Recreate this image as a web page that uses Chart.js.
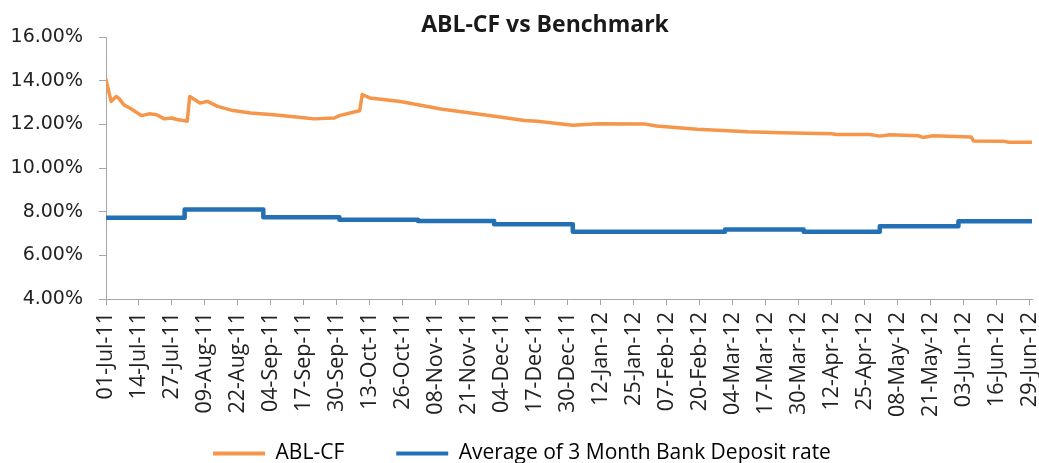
<!DOCTYPE html>
<html>
<head>
<meta charset="utf-8">
<script src="https://cdn.jsdelivr.net/npm/chart.js@4.4.1/dist/chart.umd.min.js"></script>
<style>
  html, body { margin: 0; padding: 0; background: #fff; overflow: hidden; }
  #wrap { width: 1039px; height: 474px; position: relative; }
</style>
</head>
<body>
<div id="wrap"><canvas id="c"></canvas></div>
<script>
// ---- Data ----
const chartTitle = 'ABL-CF vs Benchmark';
const seriesNames = ['ABL-CF', 'Average of 3 Month Bank Deposit rate'];

// x-axis tick labels (every 13 days)
const tickLabels = ['01-Jul-11','14-Jul-11','27-Jul-11','09-Aug-11','22-Aug-11','04-Sep-11','17-Sep-11',
  '30-Sep-11','13-Oct-11','26-Oct-11','08-Nov-11','21-Nov-11','04-Dec-11','17-Dec-11','30-Dec-11',
  '12-Jan-12','25-Jan-12','07-Feb-12','20-Feb-12','04-Mar-12','17-Mar-12','30-Mar-12','12-Apr-12',
  '25-Apr-12','08-May-12','21-May-12','03-Jun-12','16-Jun-12','29-Jun-12'];

// ABL-CF yield (%), dates and values
const ablDates = ['2011-07-01','2011-07-03','2011-07-05','2011-07-06','2011-07-08','2011-07-11','2011-07-15',
  '2011-07-18','2011-07-21','2011-07-24','2011-07-27','2011-07-29','2011-08-01','2011-08-02','2011-08-03',
  '2011-08-04','2011-08-07','2011-08-10','2011-08-14','2011-08-20','2011-08-27','2011-09-05','2011-09-12',
  '2011-09-17','2011-09-21','2011-09-29','2011-10-01','2011-10-08','2011-10-09','2011-10-10','2011-10-13',
  '2011-10-25','2011-11-10','2011-11-29','2011-12-13','2011-12-18','2012-01-01','2012-01-11','2012-01-29',
  '2012-02-03','2012-02-19','2012-03-10','2012-03-23','2012-04-12','2012-04-14','2012-04-27','2012-05-01',
  '2012-05-05','2012-05-16','2012-05-18','2012-05-22','2012-06-06','2012-06-07','2012-06-19','2012-06-21',
  '2012-06-30'];
const ablValues = [14.05,13.05,13.28,13.20,12.90,12.70,12.40,
  12.48,12.44,12.25,12.29,12.22,12.16,12.14,13.28,
  13.21,12.98,13.05,12.82,12.63,12.52,12.44,12.36,
  12.30,12.25,12.29,12.40,12.60,12.62,13.36,13.21,
  13.05,12.70,12.40,12.18,12.14,11.96,12.03,12.02,
  11.92,11.78,11.66,11.62,11.57,11.53,11.53,11.46,
  11.52,11.48,11.40,11.48,11.42,11.24,11.22,11.18,
  11.18];

// Benchmark (%), level starting at each date
const benchDates = ['2011-07-01','2011-08-01','2011-09-01','2011-10-01','2011-11-01','2011-12-01',
  '2012-01-01','2012-03-01','2012-04-01','2012-05-01','2012-06-01','2012-06-30'];
const benchValues = [7.72,8.10,7.75,7.63,7.57,7.42,7.08,7.18,7.08,7.33,7.56,7.56];

const yTicks = [4, 6, 8, 10, 12, 14, 16];

// ---- helpers ----
const MON = {Jan:0,Feb:1,Mar:2,Apr:3,May:4,Jun:5,Jul:6,Aug:7,Sep:8,Oct:9,Nov:10,Dec:11};
const origin = Date.UTC(2011, 6, 1);
const dayIso = s => { const [y,m,d] = s.split('-').map(Number); return (Date.UTC(y, m-1, d) - origin) / 86400000; };
const dayLbl = s => { const [d,m,y] = s.split('-'); return (Date.UTC(2000 + Number(y), MON[m], Number(d)) - origin) / 86400000; };
const tickDays = tickLabels.map(dayLbl);
const labelByDay = {}; tickLabels.forEach((l, i) => labelByDay[tickDays[i]] = l);

const ORANGE = '#F5964A';
const BLUE = '#2470B5';
const AXIS = '#A6A6A6';

// shift the title a little to the right, as in the reference
const titleShift = {
  id: 'titleShift',
  afterLayout(chart) { const t = chart.titleBlock; if (t) { t.left += 23; t.right += 23; } }
};

new Chart(document.getElementById('c'), {
  type: 'line',
  plugins: [titleShift],
  data: {
    datasets: [
      { label: seriesNames[0], data: ablDates.map((d, i) => ({x: dayIso(d), y: ablValues[i]})),
        borderColor: ORANGE, backgroundColor: ORANGE, borderWidth: 3.5, pointRadius: 0, tension: 0,
        borderJoinStyle: 'round', borderCapStyle: 'round' },
      { label: seriesNames[1], data: benchDates.map((d, i) => ({x: dayIso(d), y: benchValues[i]})),
        borderColor: BLUE, backgroundColor: BLUE, borderWidth: 4.5, pointRadius: 0, stepped: true,
        borderJoinStyle: 'round', borderCapStyle: 'round' }
    ]
  },
  options: {
    responsive: true,
    maintainAspectRatio: false,
    animation: false,
    layout: { padding: { left: 12, right: 7, top: 4, bottom: 0 } },
    plugins: {
      title: { display: true, text: chartTitle, color: '#1a1a1a',
        font: { family: 'Open Sans', size: 23, weight: 'bold', lineHeight: 1 }, padding: { top: 10, bottom: 0 } },
      legend: { position: 'bottom',
        labels: { boxWidth: 52, boxHeight: 4, padding: 10, color: '#222',
          font: { family: 'Open Sans', size: 21 },
          generateLabels: (chart) => chart.data.datasets.map((ds, i) => ({
            text: i === 0 ? ds.label + '\u2003\u2003' : ds.label,
            fillStyle: ds.borderColor, strokeStyle: ds.borderColor, lineWidth: 0,
            datasetIndex: i, hidden: false })) } },
      tooltip: { enabled: false }
    },
    scales: {
      x: { type: 'linear', min: 0, max: 365,
        afterBuildTicks: s => { s.ticks = tickDays.map(v => ({ value: v })); },
        afterFit: s => { s.paddingLeft = 0; s.paddingRight = 0; s.height = 134; },
        ticks: { autoSkip: false, minRotation: 90, maxRotation: 90, color: '#222', padding: 7,
          font: { family: 'Open Sans', size: 21.5 },
          callback: v => labelByDay[v] || '' },
        grid: { drawOnChartArea: false, drawTicks: true, tickLength: 6, color: AXIS },
        border: { display: true, color: AXIS, width: 1 } },
      y: { min: 4, max: 16,
        afterBuildTicks: s => { s.ticks = yTicks.map(v => ({ value: v })); },
        afterFit: s => { s.width = 94; },
        ticks: { color: '#222', padding: 16, font: { family: 'DejaVu Sans', size: 19 },
          callback: v => v.toFixed(2) + '%' },
        grid: { drawOnChartArea: false, drawTicks: true, tickLength: 7, color: AXIS },
        border: { display: true, color: AXIS, width: 1 } }
    }
  }
});
</script>
</body>
</html>
